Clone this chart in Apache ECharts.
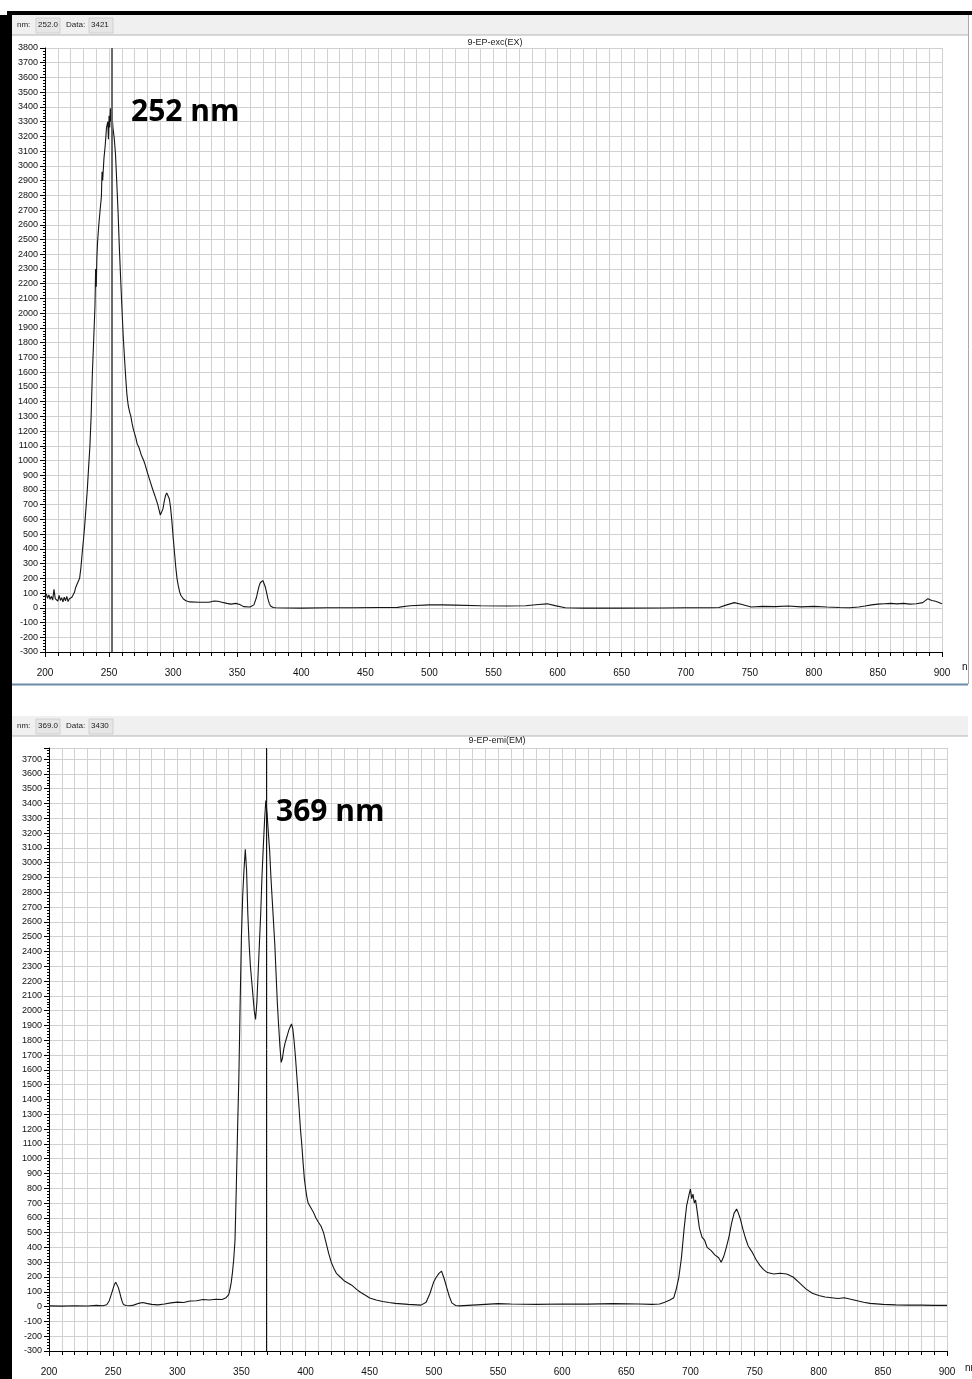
<!DOCTYPE html>
<html>
<head>
<meta charset="utf-8">
<script src="https://cdn.jsdelivr.net/npm/echarts@6/dist/echarts.min.js"></script>
<style>
html, body { margin: 0; padding: 0; background: #fff; }
#chart { width: 972px; height: 1379px; }
</style>
</head>
<body>
<div id="chart"></div>
<script>
// excitation scan (top panel), nm / intensity
var excNm = [200, 201, 202, 203, 204, 205, 206, 207, 208, 209, 210, 211, 212, 213, 214, 215, 216, 217, 218, 219,
  220, 221, 222, 223, 224, 225, 226, 227, 228, 229, 230, 231, 232, 233, 234, 235, 236, 237, 238, 239,
  239.5, 240, 240.5, 241, 242, 243, 244, 244.5, 245, 246, 247, 248, 249, 249.5, 250, 250.5, 251, 251.5, 252, 252.5,
  253, 254, 255, 256, 257, 258, 259, 260, 261, 262, 263, 264, 265, 266, 267, 268, 269, 270, 271, 272,
  273, 274, 275, 276, 277, 278, 280, 282, 284, 286, 288, 289, 290, 291, 292, 293, 294, 295, 296, 297,
  298, 299, 300, 301, 302, 303, 304, 305, 306, 308, 310, 313, 320, 328, 332, 335, 338, 342, 345, 349,
  352, 355, 360, 363, 365, 366, 367, 368, 369, 370, 371, 372, 373, 374, 375, 376, 378, 380, 400, 420,
  440, 460, 475, 485, 500, 510, 520, 540, 560, 575, 585, 592, 598, 606, 620, 650, 680, 700, 720, 726,
  732, 738, 744, 751, 760, 770, 780, 790, 800, 810, 820, 828, 835, 840, 845, 850, 855, 860, 865, 870,
  875, 880, 885, 889, 892, 895, 898, 900];
var excVal = [80, 95, 65, 88, 58, 78, 52, 125, 62, 72, 45, 85, 50, 68, 40, 72, 48, 78, 42, 62,
  55, 72, 64, 105, 140, 160, 172, 200, 270, 370, 460, 560, 680, 800, 950, 1090, 1300, 1600, 1820, 2050,
  2300, 2180, 2380, 2480, 2600, 2700, 2790, 2960, 2900, 3050, 3140, 3260, 3300, 3180, 3340, 3260, 3390, 3300, 3421, 3330,
  3260, 3190, 3080, 2890, 2690, 2450, 2240, 2040, 1850, 1700, 1560, 1440, 1370, 1330, 1300, 1250, 1210, 1180, 1150, 1110,
  1095, 1070, 1040, 1020, 1000, 975, 915, 860, 805, 755, 700, 665, 630, 640, 670, 720, 760, 780, 775, 740,
  680, 590, 480, 380, 280, 200, 150, 110, 85, 60, 48, 40, 38, 38, 46, 44, 38, 30, 25, 30,
  22, 8, 5, 20, 70, 110, 145, 170, 183, 185, 172, 140, 100, 60, 30, 12, 2, 0, -2, 0,
  0, 2, 3, 14, 20, 20, 18, 14, 12, 14, 22, 27, 15, 0, -2, -2, -1, 0, 0, 2,
  20, 35, 22, 5, 10, 8, 12, 6, 10, 5, 2, 0, 5, 12, 20, 25, 28, 30, 27, 30,
  25, 28, 35, 62, 50, 45, 35, 28];

// emission scan (bottom panel)
var emiNm = [200, 210, 220, 230, 237, 242, 245, 247, 249, 251, 252, 253, 254, 255, 256, 257, 258, 260, 263, 266,
  270, 273, 276, 280, 285, 290, 295, 300, 305, 310, 315, 320, 325, 330, 335, 338, 340, 341, 342, 343,
  344, 345, 346, 347, 348, 349, 350, 351, 352, 353, 354, 355, 356, 357, 358, 359, 360, 361, 362, 363,
  364, 365, 366, 367, 368, 369, 370, 371, 372, 373, 374, 375, 376, 377, 378, 379, 380, 381, 382, 383,
  384, 385, 386, 387, 388, 389, 390, 391, 392, 393, 394, 395, 396, 397, 398, 399, 400, 401, 402, 404,
  406, 408, 410, 412, 414, 416, 418, 420, 422, 424, 427, 430, 433, 436, 440, 443, 447, 450, 455, 460,
  465, 470, 480, 490, 494, 497, 500, 502, 504, 506, 508, 510, 512, 514, 517, 520, 530, 540, 550, 560,
  580, 600, 620, 640, 660, 670, 676, 680, 684, 687, 689, 691, 693, 695, 697, 698, 699, 700, 701, 702,
  703, 704, 705, 707, 709, 711, 713, 716, 719, 722, 724, 726, 728, 730, 732, 734, 736, 737, 739, 741,
  743, 745, 748, 751, 754, 757, 760, 765, 770, 775, 780, 785, 790, 795, 800, 805, 810, 815, 820, 825,
  830, 835, 840, 850, 860, 870, 880, 890, 900];
var emiVal = [5, 3, 6, 4, 8, 6, 12, 40, 95, 150, 165, 160, 130, 100, 65, 35, 15, 8, 6, 10,
  22, 28, 22, 15, 12, 18, 25, 30, 28, 38, 40, 48, 45, 50, 48, 60, 80, 115, 160, 230,
  320, 450, 800, 1200, 1550, 2050, 2500, 2780, 2950, 3090, 2950, 2650, 2450, 2300, 2200, 2100, 2000, 1940, 2050, 2250,
  2450, 2650, 2900, 3100, 3280, 3420, 3330, 3200, 3080, 2900, 2750, 2600, 2450, 2250, 2050, 1900, 1760, 1650, 1680, 1740,
  1780, 1810, 1840, 1870, 1890, 1910, 1880, 1800, 1700, 1580, 1460, 1330, 1200, 1100, 980, 870, 800, 740, 700, 670,
  640, 600, 570, 545, 500, 430, 360, 300, 260, 225, 200, 175, 160, 145, 115, 95, 75, 58, 45, 35,
  28, 22, 15, 10, 30, 90, 170, 200, 225, 240, 190, 130, 70, 25, 8, 5, 10, 15, 20, 18,
  15, 18, 17, 20, 18, 15, 18, 30, 45, 60, 120, 200, 330, 520, 680, 720, 760, 795, 730, 760,
  700, 720, 660, 530, 470, 450, 400, 380, 350, 330, 300, 340, 400, 470, 560, 630, 660, 640, 590, 520,
  460, 410, 370, 320, 280, 250, 230, 220, 225, 220, 200, 160, 120, 90, 75, 65, 60, 55, 60, 50,
  40, 30, 22, 15, 12, 10, 10, 8, 8];

var exCursor = 252, exData = '3421';
var emCursor = 369, emData = '3430';
var exTitle = '9-EP-exc(EX)', emTitle = '9-EP-emi(EM)';

function pairs(xs, ys) {
  return xs.map(function (x, i) { return [x, ys[i]]; });
}

var gridColor = '#d0d0d0';
var labelFont = 'Liberation Sans';

function xAxisFor(idx) {
  return {
    gridIndex: idx, type: 'value', min: 200, max: 900, interval: 50,
    axisLine: { onZero: false, lineStyle: { color: '#000', width: 1 } },
    axisTick: { length: 5, lineStyle: { color: '#000' } },
    minorTick: { show: true, splitNumber: 5, length: 4, lineStyle: { color: '#000' } },
    splitLine: { show: true, lineStyle: { color: gridColor, width: 1 } },
    minorSplitLine: { show: true, lineStyle: { color: gridColor, width: 1 } },
    axisLabel: { color: '#111', fontSize: 10, fontFamily: labelFont, margin: 16 }
  };
}
function yAxisFor(idx, max) {
  return {
    gridIndex: idx, type: 'value', min: -300, max: max, interval: 100,
    axisLine: { show: true, onZero: false, lineStyle: { color: '#000', width: 1 } },
    axisTick: { show: true, length: 5, lineStyle: { color: '#000' } },
    minorTick: { show: true, splitNumber: 5, length: 2, lineStyle: { color: '#000' } },
    splitLine: { show: true, lineStyle: { color: gridColor, width: 1 } },
    axisLabel: {
      color: '#111', fontSize: 9, fontFamily: labelFont, margin: 7,
      showMaxLabel: max % 100 === 0,
      formatter: function (v) { return String(v); }
    }
  };
}
function lineSeries(idx, data, cursor, cursorColor, cursorWidth) {
  return {
    type: 'line', xAxisIndex: idx, yAxisIndex: idx, data: data,
    showSymbol: false, symbol: 'none', silent: true,
    lineStyle: { color: '#151515', width: 1.1 },
    markLine: {
      silent: true, symbol: 'none', animation: false,
      label: { show: false },
      lineStyle: { color: cursorColor, width: cursorWidth, type: 'solid' },
      data: [{ xAxis: cursor }]
    }
  };
}

// toolbar strip: "nm: [xxx] Data: [yyy]"
function toolbar(top, nm, data) {
  var f = '8px "Liberation Sans"';
  return [
    { type: 'rect', shape: { x: 12, y: top, width: 956, height: 20 }, style: { fill: '#f0f0f0' }, z: 1 },
    { type: 'line', shape: { x1: 12, y1: top + 20, x2: 968, y2: top + 20 }, style: { stroke: '#b4b4b4', lineWidth: 1 }, z: 2 },
    { type: 'text', style: { text: 'nm:', x: 17, y: top + 10, font: f, fill: '#222', verticalAlign: 'middle' }, z: 3 },
    { type: 'rect', shape: { x: 36, y: top + 3, width: 24, height: 15 }, style: { fill: '#e6e6e6', stroke: '#d0d0d0' }, z: 2 },
    { type: 'text', style: { text: nm, x: 38, y: top + 10, font: f, fill: '#222', verticalAlign: 'middle' }, z: 3 },
    { type: 'text', style: { text: 'Data:', x: 66, y: top + 10, font: f, fill: '#222', verticalAlign: 'middle' }, z: 3 },
    { type: 'rect', shape: { x: 89, y: top + 3, width: 24, height: 15 }, style: { fill: '#e6e6e6', stroke: '#d0d0d0' }, z: 2 },
    { type: 'text', style: { text: data, x: 91, y: top + 10, font: f, fill: '#222', verticalAlign: 'middle' }, z: 3 }
  ];
}

var graphics = []
  .concat(toolbar(15, exCursor.toFixed(1), exData))
  .concat(toolbar(716, emCursor.toFixed(1), emData))
  .concat([
    // black frame bits of the screenshot
    { type: 'rect', shape: { x: 7, y: 11, width: 965, height: 4 }, style: { fill: '#000' }, z: 5 },
    { type: 'rect', shape: { x: 0, y: 15, width: 12, height: 1364 }, style: { fill: '#000' }, z: 5 },
    // lower border of top window
    { type: 'line', shape: { x1: 12, y1: 684.5, x2: 968, y2: 684.5 }, style: { stroke: '#6d8aa6', lineWidth: 2 }, z: 5 },
    { type: 'line', shape: { x1: 968.5, y1: 15, x2: 968.5, y2: 684 }, style: { stroke: '#a8a8a8', lineWidth: 1 }, z: 5 },
    // chart titles
    { type: 'text', style: { text: exTitle, x: 495, y: 43, font: '9px "Liberation Sans"', fill: '#222', align: 'center', verticalAlign: 'middle' }, z: 3 },
    { type: 'text', style: { text: emTitle, x: 497, y: 741, font: '9px "Liberation Sans"', fill: '#222', align: 'center', verticalAlign: 'middle' }, z: 3 },
    // axis unit, cut at the window edge
    { type: 'text', style: { text: 'nm', x: 962, y: 667, font: '10px "Liberation Sans"', fill: '#111', verticalAlign: 'middle' }, z: 3 },
    { type: 'rect', shape: { x: 969, y: 15, width: 3, height: 670 }, style: { fill: '#fff' }, z: 4 },
    { type: 'text', style: { text: 'nm', x: 965, y: 1368, font: '10px "Liberation Sans"', fill: '#111', verticalAlign: 'middle' }, z: 3 },
    // peak annotations
    { type: 'text', style: { text: exCursor + ' nm', x: 131, y: 112, font: 'bold 30px "Open Sans"', fill: '#000', verticalAlign: 'middle' }, z: 6 },
    { type: 'text', style: { text: emCursor + ' nm', x: 276, y: 812, font: 'bold 30px "Open Sans"', fill: '#000', verticalAlign: 'middle' }, z: 6 }
  ]);

var chart = echarts.init(document.getElementById('chart'), null, { renderer: 'canvas' });
chart.setOption({
  animation: false,
  backgroundColor: '#fff',
  grid: [
    { left: 45, top: 48, width: 897, height: 604 },
    { left: 49, top: 748, width: 898, height: 603 }
  ],
  xAxis: [xAxisFor(0), xAxisFor(1)],
  yAxis: [yAxisFor(0, 3800), yAxisFor(1, 3775)],
  series: [
    lineSeries(0, pairs(excNm, excVal), exCursor, '#6a6a6a', 2),
    lineSeries(1, pairs(emiNm, emiVal), emCursor, '#111', 1)
  ],
  graphic: graphics
});
</script>
</body>
</html>
